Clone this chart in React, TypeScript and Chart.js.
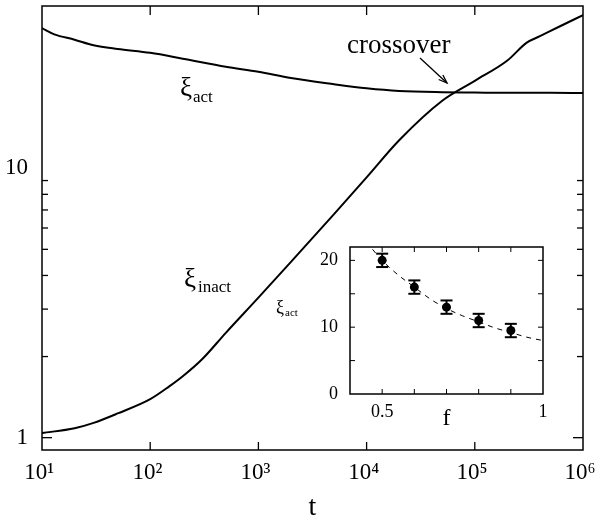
import React, { useEffect, useRef } from "react";
import { Chart, registerables } from "chart.js";

Chart.register(...registerables);

const FONT = "'Liberation Serif', 'Times New Roman', Times, serif";

// ---- main plot data ----
const actT = [10, 13, 20, 30, 50, 100, 200, 500, 1000, 2000, 5000, 1e4, 2e4, 5e4, 1e5, 2e5, 5e5, 1e6];
const actXi = [33.1, 31.4, 30.0, 28.6, 27.7, 26.8, 25.5, 23.8, 22.8, 21.6, 20.5, 19.8, 19.35, 19.15, 19.1, 19.05, 19.05, 19.0];

const inactT = [10, 20, 30, 50, 100, 150, 200, 300, 500, 1000, 2000, 5000, 1e4, 2e4, 5e4, 1e5, 2e5, 3e5, 4e5, 6e5, 1e6];
const inactXi = [1.04, 1.084, 1.135, 1.23, 1.39, 1.55, 1.69, 1.95, 2.45, 3.31, 4.49, 6.76, 9.25, 12.7, 17.8, 21.1, 25.1, 29.2, 30.9, 33.5, 37.0];

const xTickValues = [10, 100, 1000, 1e4, 1e5, 1e6];
const xTickLabels = ["10\u00b9 ", "10\u00b2 ", "10\u00b3 ", "10\u2074 ", "10\u2075 ", "10\u2076 "];
const yTickValues = [1, 10];
const yTickLabels = ["1", "10"];
const yMinorTicks = [1, 2, 3, 4, 5, 6, 7, 8, 9];

// ---- inset data ----
const fValues = [0.5, 0.6, 0.7, 0.8, 0.9];
const xiActInset = [20, 16, 13, 11, 9.5];
const xiErr = [1, 1, 1, 1, 1];
const fitF = [0.45, 0.5, 0.55, 0.6, 0.65, 0.7, 0.75, 0.8, 0.85, 0.9, 0.95, 1.0];
const fitXi = [22.8, 20.0, 17.8, 16.0, 14.2, 12.8, 11.7, 10.8, 9.9, 9.2, 8.5, 8.0];
const insetXTicks = [0.5, 1];
const insetXTickLabels = ["0.5", "1"];
const insetXMinor = [0.5, 0.6, 0.7, 0.8, 0.9];
const insetYTicks = [0, 10, 20];
const insetYMinor = [5, 10, 15, 20];

function line(ctx: CanvasRenderingContext2D, x1: number, y1: number, x2: number, y2: number) {
  ctx.beginPath();
  ctx.moveTo(x1, y1);
  ctx.lineTo(x2, y2);
  ctx.stroke();
}

function noPad(s: any) {
  s.paddingTop = 0;
  s.paddingBottom = 0;
  s.paddingLeft = 0;
  s.paddingRight = 0;
}

const mainDecor = {
  id: "mainDecor",
  afterDraw(chart: any) {
    const { ctx, chartArea: a, scales } = chart;
    const x = scales.x;
    const y = scales.y;
    ctx.save();
    ctx.strokeStyle = "#000";
    ctx.lineWidth = 1.5;
    ctx.strokeRect(a.left, a.top, a.right - a.left, a.bottom - a.top);
    ctx.lineWidth = 1.3;
    for (const v of xTickValues.slice(1, -1)) {
      const px = x.getPixelForValue(v);
      line(ctx, px, a.bottom, px, a.bottom - 8);
      line(ctx, px, a.top, px, a.top + 9);
    }
    for (const v of yMinorTicks) {
      const py = y.getPixelForValue(v);
      const len = v === 1 ? 10 : 6;
      line(ctx, a.left, py, a.left + len, py);
      line(ctx, a.right, py, a.right - len, py);
    }
    // labels
    ctx.fillStyle = "#000";
    ctx.textBaseline = "alphabetic";
    ctx.textAlign = "left";
    ctx.font = `27px ${FONT}`;
    ctx.fillText("\u03be", 180, 96);
    ctx.font = `17px ${FONT}`;
    ctx.fillText("act", 193, 102);

    ctx.font = `27px ${FONT}`;
    ctx.fillText("\u03be", 184, 287);
    ctx.font = `17px ${FONT}`;
    ctx.fillText("inact", 198, 292);

    ctx.font = `27px ${FONT}`;
    ctx.fillText("crossover", 347, 53);

    // arrow
    const x1 = 420, y1 = 58, x2 = 447, y2 = 83;
    ctx.lineWidth = 1.3;
    line(ctx, x1, y1, x2, y2);
    const ang = Math.atan2(y2 - y1, x2 - x1);
    const hl = 9;
    ctx.beginPath();
    ctx.moveTo(x2 - hl * Math.cos(ang - 0.35), y2 - hl * Math.sin(ang - 0.35));
    ctx.lineTo(x2, y2);
    ctx.lineTo(x2 - hl * Math.cos(ang + 0.35), y2 - hl * Math.sin(ang + 0.35));
    ctx.stroke();
    ctx.restore();
  },
};

const insetDecor = {
  id: "insetDecor",
  beforeDraw(chart: any) {
    const { ctx, chartArea: a } = chart;
    ctx.save();
    ctx.fillStyle = "#fff";
    ctx.fillRect(a.left, a.top, a.right - a.left, a.bottom - a.top);
    ctx.restore();
  },
  afterDatasetsDraw(chart: any) {
    const { ctx, scales } = chart;
    const x = scales.x;
    const y = scales.y;
    ctx.save();
    ctx.strokeStyle = "#000";
    ctx.lineWidth = 2;
    for (let i = 0; i < fValues.length; i++) {
      const px = x.getPixelForValue(fValues[i]);
      const top = y.getPixelForValue(xiActInset[i] + xiErr[i]);
      const bot = y.getPixelForValue(xiActInset[i] - xiErr[i]);
      line(ctx, px, top, px, bot);
      line(ctx, px - 6, top, px + 6, top);
      line(ctx, px - 6, bot, px + 6, bot);
    }
    ctx.restore();
  },
  afterDraw(chart: any) {
    const { ctx, chartArea: a, scales } = chart;
    const x = scales.x;
    const y = scales.y;
    ctx.save();
    ctx.strokeStyle = "#000";
    ctx.lineWidth = 1.5;
    ctx.strokeRect(a.left, a.top, a.right - a.left, a.bottom - a.top);
    ctx.lineWidth = 1;
    for (const v of insetXMinor) {
      const px = x.getPixelForValue(v);
      line(ctx, px, a.bottom, px, a.bottom - 5);
      line(ctx, px, a.top, px, a.top + 5);
    }
    for (const v of insetYMinor) {
      const py = y.getPixelForValue(v);
      line(ctx, a.left, py, a.left + 5, py);
      line(ctx, a.right, py, a.right - 5, py);
    }
    ctx.fillStyle = "#000";
    ctx.textBaseline = "alphabetic";
    ctx.textAlign = "left";
    ctx.font = `18px ${FONT}`;
    ctx.fillText("\u03be", 6, 75);
    ctx.font = `11px ${FONT}`;
    ctx.fillText("act", 15, 78);
    ctx.textAlign = "center";
    ctx.font = `24px ${FONT}`;
    ctx.fillText("f", (a.left + a.right) / 2, a.bottom + 31);
    ctx.restore();
  },
};

export default function App() {
  const mainRef = useRef<HTMLCanvasElement | null>(null);
  const insetRef = useRef<HTMLCanvasElement | null>(null);

  useEffect(() => {
    const main = new Chart(mainRef.current as HTMLCanvasElement, {
      type: "line",
      data: {
        datasets: [
          {
            label: "xi_act",
            data: actT.map((t, i) => ({ x: t, y: actXi[i] })),
            borderColor: "#000",
            borderWidth: 2,
            pointRadius: 0,
            cubicInterpolationMode: "monotone",
          },
          {
            label: "xi_inact",
            data: inactT.map((t, i) => ({ x: t, y: inactXi[i] })),
            borderColor: "#000",
            borderWidth: 2,
            pointRadius: 0,
            cubicInterpolationMode: "monotone",
          },
        ],
      },
      options: {
        animation: false,
        responsive: false,
        devicePixelRatio: 1,
        layout: { padding: { top: 6, right: 13, left: 0, bottom: 0 } },
        plugins: { legend: { display: false }, tooltip: { enabled: false } },
        scales: {
          x: {
            type: "logarithmic",
            min: 10,
            max: 1e6,
            grid: { display: false, drawTicks: false },
            border: { display: false },
            afterBuildTicks: (s: any) => {
              s.ticks = xTickValues.map((v) => ({ value: v }));
            },
            afterFit: (s: any) => {
              s.height = 68;
              noPad(s);
            },
            ticks: {
              autoSkip: false,
              maxRotation: 0,
              padding: 9,
              color: "#000",
              font: { family: FONT, size: 23 },
              callback: (v: any) => {
                const i = xTickValues.indexOf(Number(v));
                return i >= 0 ? xTickLabels[i] : "";
              },
            },
            title: {
              display: true,
              text: "t",
              color: "#000",
              font: { family: FONT, size: 28 },
              padding: { top: 0, bottom: -6 },
            },
          },
          y: {
            type: "logarithmic",
            min: 0.9,
            max: 40,
            grid: { display: false, drawTicks: false },
            border: { display: false },
            afterBuildTicks: (s: any) => {
              s.ticks = yTickValues.map((v) => ({ value: v }));
            },
            afterFit: (s: any) => {
              s.width = 42;
              noPad(s);
            },
            ticks: {
              autoSkip: false,
              padding: 14,
              color: "#000",
              font: { family: FONT, size: 23 },
              callback: (v: any) => {
                const i = yTickValues.indexOf(Number(v));
                return i >= 0 ? yTickLabels[i] : "";
              },
            },
          },
        },
      },
      plugins: [mainDecor],
    } as any);

    const inset = new Chart(insetRef.current as HTMLCanvasElement, {
      type: "scatter",
      data: {
        datasets: [
          {
            label: "data",
            data: fValues.map((f, i) => ({ x: f, y: xiActInset[i] })),
            backgroundColor: "#000",
            borderColor: "#000",
            pointRadius: 4.5,
            pointBorderWidth: 0,
          },
          {
            label: "fit",
            data: fitF.map((f, i) => ({ x: f, y: fitXi[i] })),
            showLine: true,
            borderColor: "#000",
            borderWidth: 1,
            borderDash: [5, 5],
            pointRadius: 0,
            cubicInterpolationMode: "monotone",
          },
        ],
      },
      options: {
        animation: false,
        responsive: false,
        devicePixelRatio: 1,
        layout: { padding: { top: 9, right: 17, left: 0, bottom: 0 } },
        plugins: { legend: { display: false }, tooltip: { enabled: false } },
        scales: {
          x: {
            type: "linear",
            min: 0.4,
            max: 1.0,
            grid: { display: false, drawTicks: false },
            border: { display: false },
            afterBuildTicks: (s: any) => {
              s.ticks = insetXTicks.map((v) => ({ value: v }));
            },
            afterFit: (s: any) => {
              s.height = 44;
              noPad(s);
            },
            ticks: {
              autoSkip: false,
              maxRotation: 0,
              padding: 7,
              color: "#000",
              font: { family: FONT, size: 18 },
              callback: (v: any) => {
                const i = insetXTicks.indexOf(Number(v));
                return i >= 0 ? insetXTickLabels[i] : "";
              },
            },
          },
          y: {
            type: "linear",
            min: 0,
            max: 22,
            grid: { display: false, drawTicks: false },
            border: { display: false },
            afterBuildTicks: (s: any) => {
              s.ticks = insetYTicks.map((v) => ({ value: v }));
            },
            afterFit: (s: any) => {
              s.width = 80;
              noPad(s);
            },
            ticks: {
              autoSkip: false,
              padding: 12,
              color: "#000",
              font: { family: FONT, size: 18 },
              callback: (v: any) => String(v),
            },
          },
        },
      },
      plugins: [insetDecor],
    } as any);

    return () => {
      main.destroy();
      inset.destroy();
    };
  }, []);

  return (
    <div style={{ position: "fixed", left: 0, top: 0, width: 596, height: 518, background: "#fff" }}>
      <canvas ref={mainRef} width={596} height={518} style={{ position: "absolute", left: 0, top: 0 }} />
      <canvas ref={insetRef} width={290} height={200} style={{ position: "absolute", left: 270, top: 238 }} />
    </div>
  );
}
